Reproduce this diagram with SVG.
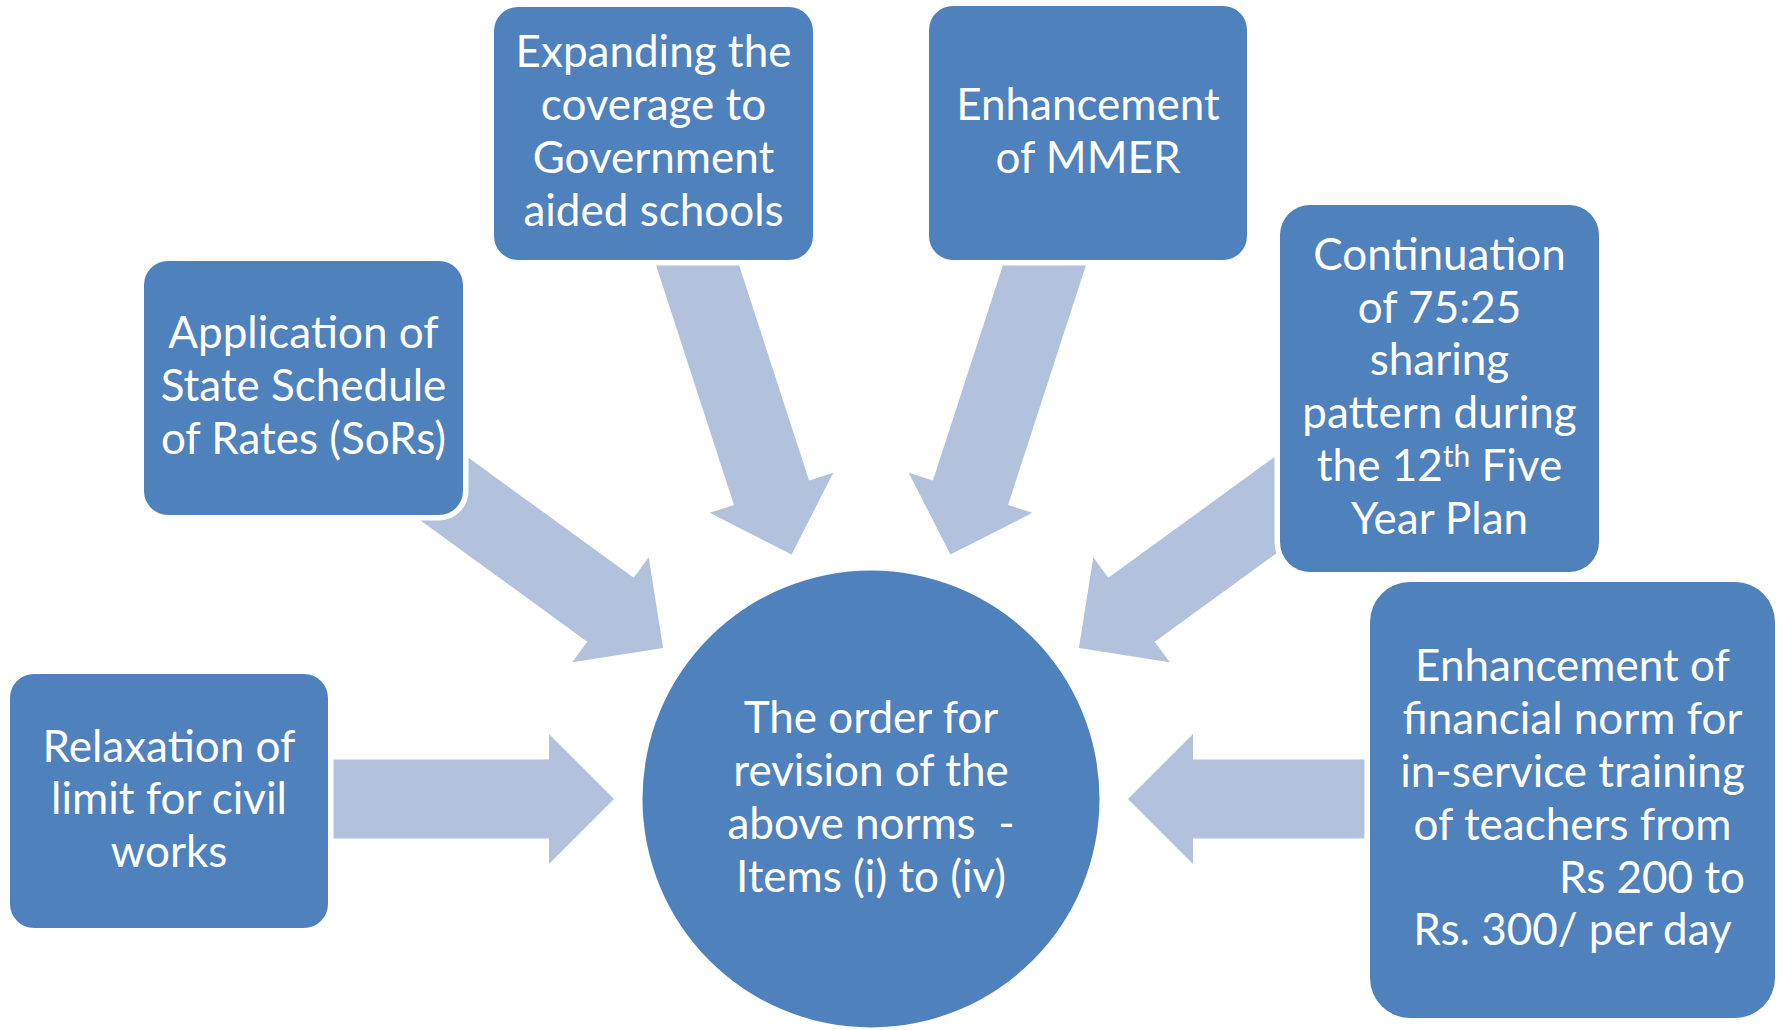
<svg xmlns="http://www.w3.org/2000/svg" xmlns:xlink="http://www.w3.org/1999/xlink" width="1778" height="1030" viewBox="0 0 1778 1030">
<style>
.box{fill:#4F81BD;stroke:#FFFFFF;stroke-width:11;paint-order:stroke}
.arrow{fill:#B3C2DC}
.t{fill:#FFFFFF;font-family:Lato,"Open Sans","Liberation Sans",sans-serif;font-size:44px;text-anchor:middle}
</style>
<defs>
<polygon id="arr" points="-640,-39.5 -322,-39.5 -322,-65 -257,0 -322,65 -322,39.5 -640,39.5"/>
</defs>
<rect width="1778" height="1030" fill="#FFFFFF"/>
<g id="connectors" class="arrow">
<use xlink:href="#arr" href="#arr" transform="translate(871,799) rotate(0)"/>
<use xlink:href="#arr" href="#arr" transform="translate(871,799) rotate(36)"/>
<use xlink:href="#arr" href="#arr" transform="translate(871,799) rotate(72)"/>
<use xlink:href="#arr" href="#arr" transform="translate(871,799) rotate(108)"/>
<use xlink:href="#arr" href="#arr" transform="translate(871,799) rotate(144)"/>
<use xlink:href="#arr" href="#arr" transform="translate(871,799) rotate(180)"/>
</g>
<g id="center">
<circle class="box" cx="871" cy="799" r="228.5"/>
<text class="t" x="871" y="733">The order for</text>
<text class="t" x="871" y="786">revision of the</text>
<text class="t" x="871" y="839" xml:space="preserve">above norms  -</text>
<text class="t" x="871" y="892">Items (i) to (iv)</text>
</g>
<g id="relaxation">
<rect class="box" x="10" y="674" width="318" height="254" rx="24"/>
<text class="t" x="169" y="762">Relaxation of</text>
<text class="t" x="169" y="814">limit for civil</text>
<text class="t" x="169" y="867">works</text>
</g>
<g id="application">
<rect class="box" x="144" y="261" width="319" height="254" rx="24"/>
<text class="t" x="303.5" y="348">Application of</text>
<text class="t" x="303.5" y="401">State Schedule</text>
<text class="t" x="303.5" y="454">of Rates (SoRs)</text>
</g>
<g id="expanding">
<rect class="box" x="494" y="7" width="319" height="253" rx="24"/>
<text class="t" x="653.5" y="67">Expanding the</text>
<text class="t" x="653.5" y="120">coverage to</text>
<text class="t" x="653.5" y="173">Government</text>
<text class="t" x="653.5" y="226">aided schools</text>
</g>
<g id="mmer">
<rect class="box" x="929" y="6" width="318" height="254" rx="24"/>
<text class="t" x="1088" y="120">Enhancement</text>
<text class="t" x="1088" y="173">of MMER</text>
</g>
<g id="continuation">
<rect class="box" x="1280" y="205" width="319" height="367" rx="30"/>
<text class="t" x="1439.5" y="270">Continuation</text>
<text class="t" x="1439.5" y="323">of 75:25</text>
<text class="t" x="1439.5" y="375">sharing</text>
<text class="t" x="1439.5" y="428">pattern during</text>
<text class="t" x="1439.5" y="481">the 12<tspan font-size="30" dy="-14">th</tspan><tspan dy="14"> Five</tspan></text>
<text class="t" x="1439.5" y="534">Year Plan</text>
</g>
<g id="financial">
<rect class="box" x="1370" y="582" width="405" height="436" rx="40"/>
<text class="t" x="1572.5" y="681">Enhancement of</text>
<text class="t" x="1572.5" y="734">financial norm for</text>
<text class="t" x="1572.5" y="787">in-service training</text>
<text class="t" x="1572.5" y="840">of teachers from</text>
<text class="t" x="1745" y="893" text-anchor="end" style="text-anchor:end">Rs 200 to</text>
<text class="t" x="1572.5" y="945">Rs. 300/ per day</text>
</g>
</svg>
